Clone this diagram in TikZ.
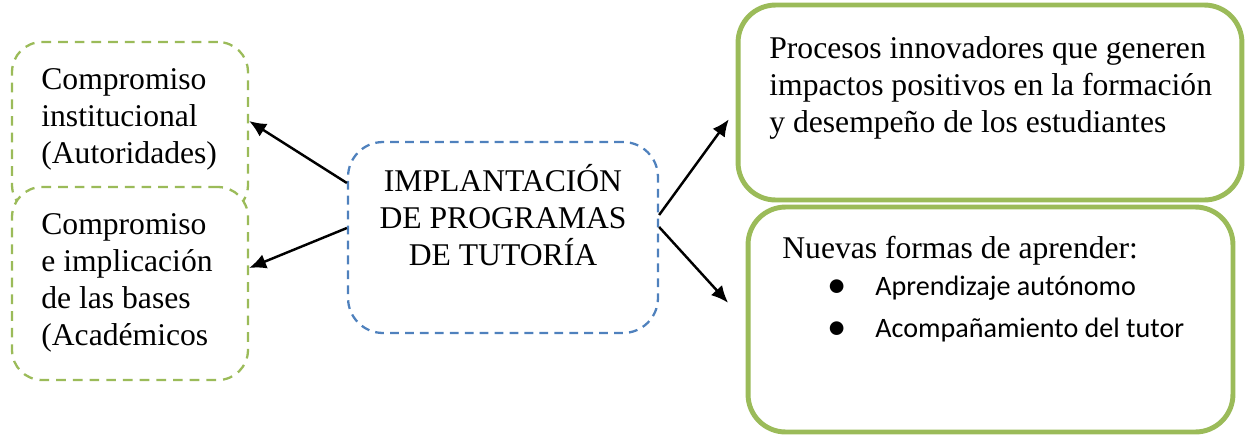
\documentclass[tikz,border=0pt]{standalone}
\usepackage{fontspec}
\setmainfont{Liberation Serif}
\newfontfamily\calibrifont{Carlito}
\usetikzlibrary{arrows.meta}

\definecolor{wordgreen}{HTML}{9BBB59}
\definecolor{wordblue}{HTML}{4F81BD}

\tikzset{
  dashgreen/.style={draw=wordgreen, line width=1.3pt, dash pattern=on 5.5pt off 4pt,
    rounded corners=0.6cm, fill=white, inner sep=0pt},
  dashblue/.style={draw=wordblue, line width=1.3pt, dash pattern=on 5pt off 3.5pt,
    rounded corners=0.7cm, inner sep=0pt},
  thickgreen/.style={draw=wordgreen, line width=2.8pt, rounded corners=0.75cm,
    fill=white, inner sep=0pt},
  boxtext/.style={inner sep=0pt, align=left, font=\fontsize{18}{21}\selectfont},
  listtext/.style={inner sep=0pt, anchor=base west,
    font=\calibrifont\fontsize{16}{19}\selectfont},
  bulletdot/.style={inner sep=0pt, anchor=base, font=\calibrifont\fontsize{22}{22}\selectfont},
  arr/.style={line width=1.4pt, -{Latex[length=0.34cm,width=0.3cm]}}
}

\begin{document}
\begin{tikzpicture}[x=0.02cm, y=-0.02cm]

  \useasboundingbox (0,0) rectangle (1252,434);

  %Left boxes
  \node [dashgreen, minimum width=4.72cm, minimum height=3.46cm] (inst) at (130,128.5) {};
  \node [dashgreen, minimum width=4.72cm, minimum height=3.86cm] (bases) at (130,283.5) {};

  \node [boxtext, anchor=base west] (insttext) at (41,163)
    {Compromiso\\institucional\\(Autoridades)};
  \node [boxtext, anchor=base west] (basestext) at (41,345)
    {Compromiso\\e implicación\\de las bases\\(Académicos};

  %Center box
  \node [dashblue, minimum width=6.2cm, minimum height=3.82cm] (impl) at (503,237.5) {};
  \node [boxtext, align=center, anchor=base] (impltext) at (503,265)
    {IMPLANTACIÓN\\DE PROGRAMAS\\DE TUTORÍA};

  %Right boxes
  \node [thickgreen, minimum width=10.08cm, minimum height=3.9cm] (proc) at (990,102.5) {};
  \node [boxtext, anchor=base west] (proctext) at (769,132)
    {Procesos innovadores que generen\\impactos positivos en la formación\\y desempeño de los estudiantes};

  \node [thickgreen, minimum width=9.7cm, minimum height=4.5cm] (learn) at (990.5,319.5) {};
  \node [boxtext, anchor=base west] (learntext) at (782,258) {Nuevas formas de aprender:};

  %Bullet list
  \node [bulletdot] (dotone) at (837,297) {•};
  \node [listtext] (itemone) at (875,295) {Aprendizaje autónomo};
  \node [bulletdot] (dottwo) at (837,339) {•};
  \node [listtext] (itemtwo) at (875,337) {Acompañamiento del tutor};

  %Arrows
  \draw [arr] (impl.west |- 0,183) -- (inst.east |- 0,121);
  \draw [arr] (impl.west |- 0,228) -- (bases.east |- 0,268);
  \draw [arr, shorten >=0.23cm] (impl.east |- 0,215) -- (proc.west |- 0,110);
  \draw [arr, shorten >=0.52cm] (impl.east |- 0,227) -- (learn.west |- 0,322);

\end{tikzpicture}
\end{document}
